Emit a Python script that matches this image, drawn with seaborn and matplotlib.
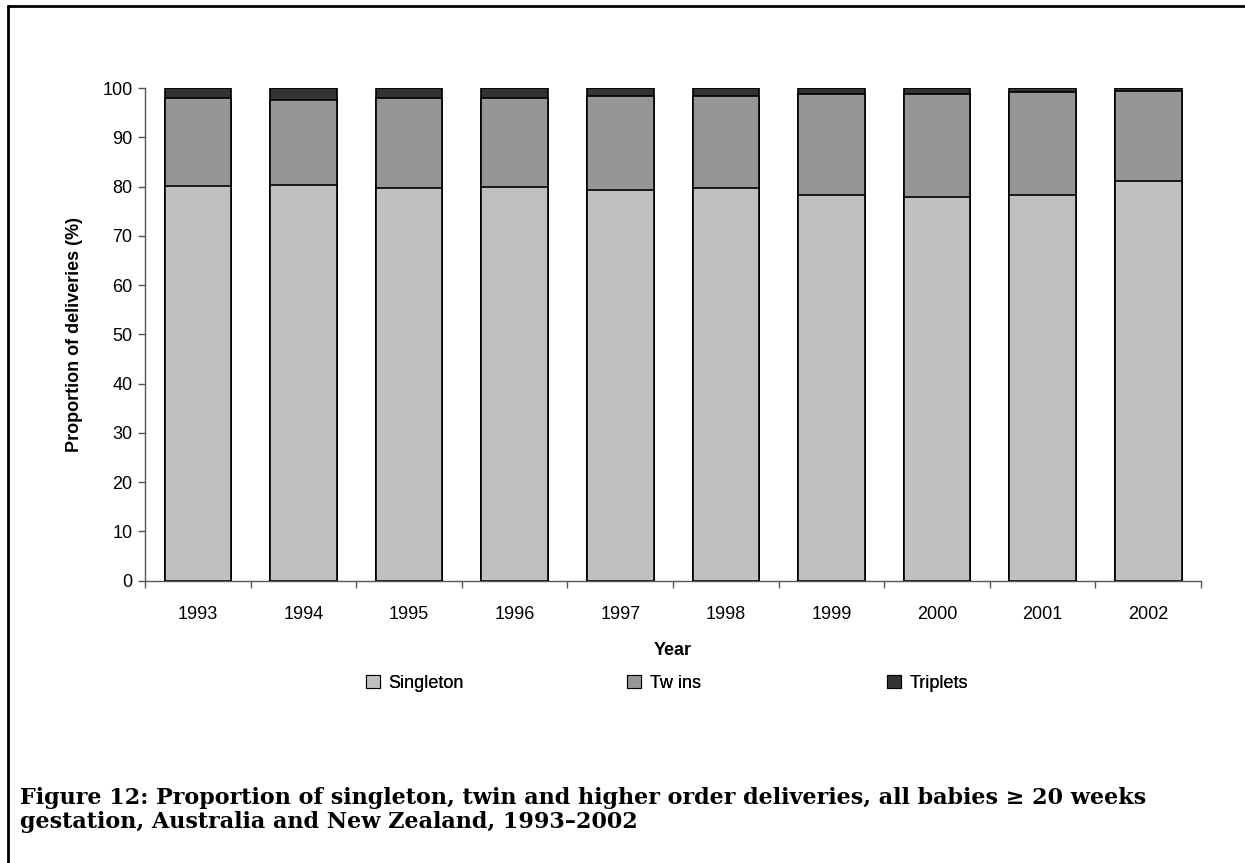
import matplotlib
matplotlib.use("Agg")
import matplotlib.pyplot as plt
from matplotlib.patches import Patch
from matplotlib.lines import Line2D
import seaborn as sns
import pandas as pd
import numpy as np

years = ["1993", "1994", "1995", "1996", "1997", "1998", "1999", "2000", "2001", "2002"]
singleton = [80.1, 80.4, 79.8, 80.0, 79.3, 79.7, 78.2, 77.8, 78.2, 81.2]
twins = [17.9, 17.2, 18.2, 18.0, 19.1, 18.7, 20.6, 21.0, 21.0, 18.1]
triplets = [2.0, 2.4, 2.0, 2.0, 1.6, 1.6, 1.2, 1.2, 0.8, 0.7]
series_names = ["Singleton", "Tw ins", "Triplets"]
series_colors = ["#c0c0c0", "#969696", "#333333"]

sns.set_theme(style="white")
plt.rcParams["font.family"] = ["Liberation Sans", "DejaVu Sans"]
plt.rcParams["text.color"] = "black"
plt.rcParams["axes.labelcolor"] = "black"
plt.rcParams["xtick.color"] = "black"
plt.rcParams["ytick.color"] = "black"

df = pd.DataFrame({"Year": years, "Singleton": singleton, "Twins": twins, "Triplets": triplets})
df["cum1"] = df["Singleton"]
df["cum2"] = df["Singleton"] + df["Twins"]
df["cum3"] = df["cum2"] + df["Triplets"]

fig = plt.figure(figsize=(12.45, 8.63), dpi=100)
ax = fig.add_axes([0.1165, 0.3271, 0.8482, 0.5709])

for col, color in zip(["cum3", "cum2", "cum1"], series_colors[::-1]):
    sns.barplot(data=df, x="Year", y=col, color=color, width=0.63,
                edgecolor="black", linewidth=1.2, saturation=1, ax=ax, order=years)

ax.set_ylim(0, 100)
ax.set_xlim(-0.5, len(years) - 0.5)
ax.set_yticks(np.arange(0, 101, 10))
ax.tick_params(axis="y", labelsize=13, length=5, width=1, color="#555555",
               direction="out", left=True, pad=4, labelcolor="black")
ax.set_xticks(np.arange(len(years)))
ax.set_xticklabels(years)
ax.tick_params(axis="x", which="major", length=0, labelsize=13, pad=18, labelcolor="black")
ax.set_xticks(np.arange(-0.5, len(years), 1.0), minor=True)
ax.tick_params(axis="x", which="minor", length=5, width=1, color="#555555",
               direction="out", bottom=True)

for side in ["top", "right"]:
    ax.spines[side].set_visible(False)
for side in ["left", "bottom"]:
    ax.spines[side].set_color("#555555")
    ax.spines[side].set_linewidth(1)

ax.set_ylabel("Proportion of deliveries (%)", fontsize=13, fontweight="bold", labelpad=14,
              color="black")
ax.set_xlabel("Year", fontsize=13, fontweight="bold", labelpad=14, color="black")

# legend: three equally spaced entries
legend_x = [366 / 1245, 627 / 1245, 887 / 1245]
legend_y = 1 - 683 / 863
for i, (name, color) in enumerate(zip(series_names, series_colors)):
    handle = Patch(facecolor=color, edgecolor="black", linewidth=0.8)
    leg = fig.legend([handle], [name], loc="center left",
                     bbox_to_anchor=(legend_x[i], legend_y),
                     frameon=False, fontsize=13, handlelength=0.75, handleheight=0.75,
                     handletextpad=0.5, borderpad=0, borderaxespad=0, labelcolor="black")
    fig.add_artist(leg)

# title
fig.text(20 / 1245, 1 - 810 / 863,
         "Figure 12: Proportion of singleton, twin and higher order deliveries, all babies \u2265 20 weeks\n"
         "gestation, Australia and New Zealand, 1993\u20132002",
         fontsize=16, fontweight="bold", family=["DejaVu Serif"], color="black",
         ha="left", va="center", linespacing=1.15)

# frame lines (left and top)
fig.add_artist(Line2D([7.5 / 1245, 7.5 / 1245], [0, 1 - 6 / 863], color="black", lw=2,
                      transform=fig.transFigure))
fig.add_artist(Line2D([7.5 / 1245, 1], [1 - 6 / 863, 1 - 6 / 863], color="black", lw=2,
                      transform=fig.transFigure))

fig.savefig("out.png", dpi=100, facecolor="white")
